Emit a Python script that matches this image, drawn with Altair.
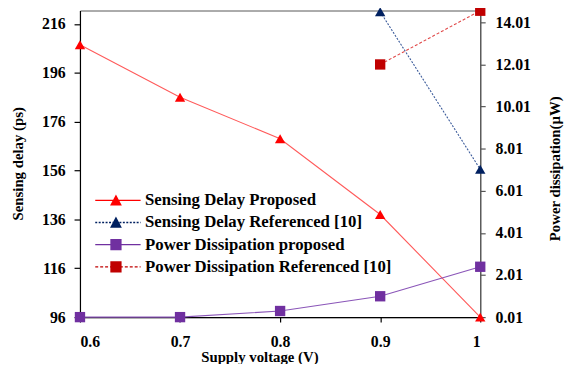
import altair as alt
import pandas as pd

# ---- data ----
voltage = [0.6, 0.7, 0.8, 0.9, 1.0]
delay_proposed = [207.5, 186.0, 169.0, 138.0, 96.0]
voltage_ref = [0.9, 1.0]
delay_referenced = [221.0, 156.5]
power_proposed = [0.01, 0.01, 0.3, 1.0, 2.4]
power_referenced = [12.0, 14.55]

series_names = [
    "Sensing Delay Proposed",
    "Sensing Delay Referenced [10]",
    "Power Dissipation proposed",
    "Power Dissipation Referenced [10]",
]
x_ticks = [0.6, 0.7, 0.8, 0.9, 1.0]
left_ticks = [96, 116, 136, 156, 176, 196, 216]
right_ticks = [0.01, 2.01, 4.01, 6.01, 8.01, 10.01, 12.01, 14.01]

FONT = "Liberation Serif"

# styles
marker_colors = ["#FF0000", "#002060", "#7030A0", "#C00000"]
line_colors = ["#FF5A5A", "#3A5A9A", "#8A55B8", "#E04848"]
dashes = [None, [2, 1.5], None, [3, 2]]


def legend_path(marker, dash):
    # unit = 6px ; line from -21px to +25px around the marker
    u = 6.0
    x0, x1 = -21 / u, 25 / u
    h = 0.11
    parts = []
    if dash is None:
        parts.append(f"M{x0:.3f},{-h}H{x1:.3f}V{h}H{x0:.3f}Z")
    else:
        d, g = dash[0] / u, dash[1] / u
        x = x0
        while x < x1:
            xe = min(x + d, x1)
            parts.append(f"M{x:.3f},{-h}H{xe:.3f}V{h}H{x:.3f}Z")
            x = xe + g
    if marker == "tri":
        parts.append("M-1,0.9L0,-1L1,0.9Z")
    else:
        parts.append("M-0.95,-0.95H0.95V0.95H-0.95Z")
    return "".join(parts)


legend_shapes = [
    legend_path("tri", dashes[0]),
    legend_path("tri", dashes[1]),
    legend_path("sq", dashes[2]),
    legend_path("sq", dashes[3]),
]

df_dp = pd.DataFrame({"v": voltage, "val": delay_proposed})
df_dr = pd.DataFrame({"v": voltage_ref, "val": delay_referenced})
df_pp = pd.DataFrame({"v": voltage, "val": power_proposed})
df_pr = pd.DataFrame({"v": voltage_ref, "val": power_referenced})
df_leg = pd.DataFrame({"series": series_names})

x_enc = alt.X(
    "v:Q",
    scale=alt.Scale(domain=[0.6, 1.0], nice=False, zero=False),
    axis=alt.Axis(
        values=x_ticks,
        format="~g",
        title="Supply voltage (V)",
        titleX=182,
        titleY=45,
        titleBaseline="alphabetic",
        titleAnchor="start",
        titleAlign="center",
        labelPadding=12,
        tickSize=5,
        domainColor="#000000",
        tickColor="#000000",
    ),
)

y_left = alt.Y(
    "val:Q",
    scale=alt.Scale(domain=[96, 221.5], nice=False, zero=False),
    axis=alt.Axis(
        orient="left",
        values=left_ticks,
        title="Sensing delay (ps)",
        titleX=-63,
        titleY=155,
        titleAngle=270,
        titleBaseline="middle",
        titleAlign="center",
        labelPadding=9,
        tickSize=6,
        domainColor="#000000",
        tickColor="#000000",
    ),
)

y_right = alt.Y(
    "val:Q",
    scale=alt.Scale(domain=[0.01, 14.56], nice=False, zero=False),
    axis=alt.Axis(
        orient="right",
        values=right_ticks,
        format=".2f",
        title="Power dissipation(\u00b5W)",
        titleX=75,
        titleY=160,
        titleAngle=270,
        titleBaseline="middle",
        titleAlign="center",
        labelPadding=10,
        tickSize=5,
        domainColor="#555555",
        tickColor="#555555",
    ),
)


def series_layers(df, y, i, shape):
    line_kwargs = dict(color=line_colors[i], strokeWidth=1.1)
    if dashes[i] is not None:
        line_kwargs["strokeDash"] = dashes[i]
    line = alt.Chart(df).mark_line(**line_kwargs).encode(x=x_enc, y=y)
    pts = alt.Chart(df).mark_point(
        shape=shape, filled=True, size=110, opacity=1, color=marker_colors[i]
    ).encode(x=x_enc, y=y)
    return [line, pts]


left = alt.layer(
    *series_layers(df_dp, y_left, 0, "triangle-up"),
    *series_layers(df_dr, y_left, 1, "triangle-up"),
)
right = alt.layer(
    *series_layers(df_pp, y_right, 2, "square"),
    *series_layers(df_pr, y_right, 3, "square"),
)

dummy = (
    alt.Chart(df_leg)
    .transform_filter("false")
    .mark_point(filled=True, opacity=1, size=144)
    .encode(
        color=alt.Color(
            "series:N",
            scale=alt.Scale(domain=series_names, range=marker_colors),
            legend=alt.Legend(
                title=None,
                orient="none",
                legendX=28,
                legendY=184,
                direction="vertical",
                symbolSize=144,
                symbolStrokeWidth=0,
                labelOffset=21,
                rowPadding=4.5,
                padding=0,
                labelFont=FONT,
                labelFontSize=17,
                labelFontWeight="bold",
                labelColor="#000000",
                labelLimit=500,
            ),
        ),
        shape=alt.Shape(
            "series:N",
            scale=alt.Scale(domain=series_names, range=legend_shapes),
            legend=None,
        ),
    )
)

chart = (
    alt.layer(left, right, dummy)
    .resolve_scale(y="independent")
    .properties(
        width=406,
        height=311,
        padding={"left": 73, "top": 0, "right": 88, "bottom": 45},
        autosize=alt.AutoSizeParams(type="none"),
        background="white",
    )
    .configure_view(stroke="#555555", strokeWidth=1)
    .configure_axis(
        grid=False,
        labelFont=FONT,
        labelFontSize=16,
        labelFontWeight="bold",
        labelColor="#000000",
        titleFont=FONT,
        titleFontSize=15,
        titleFontWeight="bold",
        titleColor="#000000",
        domainWidth=1.2,
        tickWidth=1.2,
    )
)

chart.save("out.html", embed_options={"renderer": "svg", "actions": False})
